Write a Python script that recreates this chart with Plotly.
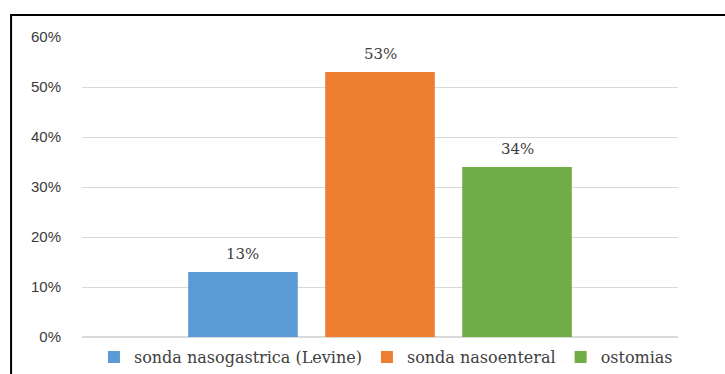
import plotly.graph_objects as go

series = ["sonda nasogastrica (Levine)", "sonda nasoenteral", "ostomias"]
values = [0.13, 0.53, 0.34]
labels = ["13%", "53%", "34%"]
colors = ["#5b9bd5", "#ed7d31", "#70ad47"]
yticks = [0, 0.1, 0.2, 0.3, 0.4, 0.5, 0.6]
yticklabels = ["0%", "10%", "20%", "30%", "40%", "50%", "60%"]

fig = go.Figure()
for name, v, c in zip(series, values, colors):
    fig.add_trace(go.Bar(
        x=[name], y=[v], name=name, marker=dict(color=c, line=dict(width=0)),
    ))

annotations = [
    dict(x=name, y=v, xref="x", yref="y", text=lab, showarrow=False,
         yanchor="bottom", yshift=7,
         font=dict(family="DejaVu Serif", size=15, color="#404040"))
    for name, v, lab in zip(series, values, labels)
]

fig.update_layout(
    width=725, height=374,
    margin=dict(l=82, r=47, t=37, b=37, autoexpand=False),
    paper_bgcolor="white", plot_bgcolor="white",
    barmode="overlay", bargap=0.2,
    showlegend=True,
    legend=dict(orientation="h", x=0.51, xanchor="center", y=-0.067, yanchor="middle",
                font=dict(family="DejaVu Serif", size=16, color="#404040"),
                itemwidth=30, tracegroupgap=0, traceorder="normal"),
    xaxis=dict(showticklabels=False, showgrid=False, zeroline=False, showline=False,
               type="category", range=[-1.175, 3.175]),
    yaxis=dict(range=[0, 0.6], tickvals=yticks, ticktext=yticklabels,
               showgrid=True, gridcolor="#d9d9d9", gridwidth=1, zeroline=True,
               zerolinecolor="#d9d9d9", showline=False, ticks="",
               ticklabelstandoff=20,
               tickfont=dict(family="Liberation Sans", size=15, color="#3a3a3a")),
    annotations=annotations,
    shapes=[dict(type="rect", xref="paper", yref="paper",
                 x0=-0.119, x1=1.2, y0=-0.2, y1=1.0733,
                 line=dict(color="black", width=2), fillcolor="rgba(0,0,0,0)", layer="above")],
)

fig.write_html("out.html")
